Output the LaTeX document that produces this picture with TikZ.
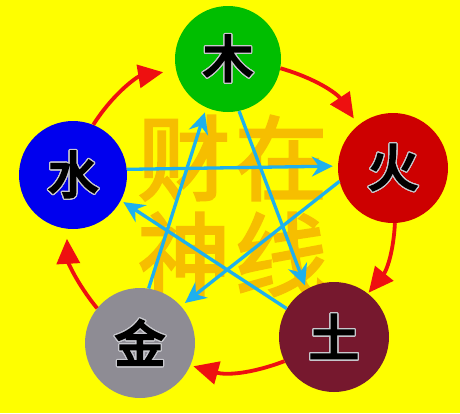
\documentclass[tikz,border=0pt]{standalone}
\usepackage{fontspec}
\usepackage[copies]{contour}
\contourlength{1.2pt}
\contournumber{24}
\newfontfamily\cjkfat[FakeBold=5]{Noto Sans CJK SC}
\newfontfamily\cjkwm[FakeBold=3]{Noto Sans CJK SC}
\usetikzlibrary{arrows.meta}
\definecolor{bgyellow}{RGB}{254,254,0}
\definecolor{wmorange}{RGB}{246,190,0}
\definecolor{cmu}{RGB}{0,190,0}
\definecolor{chuo}{RGB}{205,0,0}
\definecolor{ctu}{RGB}{118,24,46}
\definecolor{cjin}{RGB}{142,140,148}
\definecolor{cshui}{RGB}{0,0,238}
\definecolor{redline}{RGB}{238,16,16}
\definecolor{blueline}{RGB}{30,176,238}
\definecolor{outl}{RGB}{200,200,205}
\newcommand{\elemtext}[1]{\contour{outl}{#1}}
\tikzset{
  elem/.style={circle, inner sep=0pt, font=\cjkfat\fontsize{50}{50}\selectfont, text=black},
  wm/.style={inner sep=0pt, text=wmorange, font=\cjkwm\fontsize{92}{92}\selectfont},
  redarrow/.style={draw=redline, line width=3.8pt, -{Triangle[length=25pt,width=23pt]}},
  bluearrow/.style={draw=blueline, line width=3.3pt, -{Stealth[length=21pt,width=20pt,inset=7pt]}}
}
\begin{document}
\begin{tikzpicture}[x=1pt,y=-1pt]
\fill[bgyellow] (0,0) rectangle (460,413);
\useasboundingbox (0,0) rectangle (460,413);
% watermark
\node[wm] (w1) at (184,158) {财};
\node[wm] (w2) at (281,158) {在};
\node[wm] (w3) at (184,255) {神};
\node[wm] (w4) at (281,255) {线};
% elements
\node[elem, fill=cmu, minimum size=106pt] (mu) at (228,59) {\elemtext{木}};
\node[elem, fill=chuo, minimum size=110pt] (huo) at (393,168) {\elemtext{火}};
\node[elem, fill=ctu, minimum size=110pt] (tu) at (334,337) {\elemtext{土}};
\node[elem, fill=cjin, minimum size=110pt] (jin) at (140,343) {\elemtext{金}};
\node[elem, fill=cshui, minimum size=108pt] (shui) at (73,175) {\elemtext{水}};
% generating cycle
\draw[redarrow, shorten >=8pt] (mu.350) to[bend left=20] (huo.129);
\draw[redarrow, shorten >=1pt] (huo.272) to[bend left=18] (tu.52);
\draw[redarrow, shorten >=3pt] (tu.206) to[bend left=18] (jin.336);
\draw[redarrow, shorten >=10pt] (jin.141) to[bend left=18] (shui.263);
\draw[redarrow, shorten >=13pt] (shui.68) to[bend left=24] (mu.192);
% overcoming cycle
\draw[bluearrow, shorten >=5pt] (shui.6) -- (huo.178);
\draw[bluearrow, shorten >=5pt] (huo.194) -- (jin.42);
\draw[bluearrow, shorten >=5pt] (jin.81) -- (mu.246);
\draw[bluearrow, shorten >=4pt] (mu.282) -- (tu.120);
\draw[bluearrow, shorten >=3pt] (tu.149) -- (shui.332);
\end{tikzpicture}
\end{document}
